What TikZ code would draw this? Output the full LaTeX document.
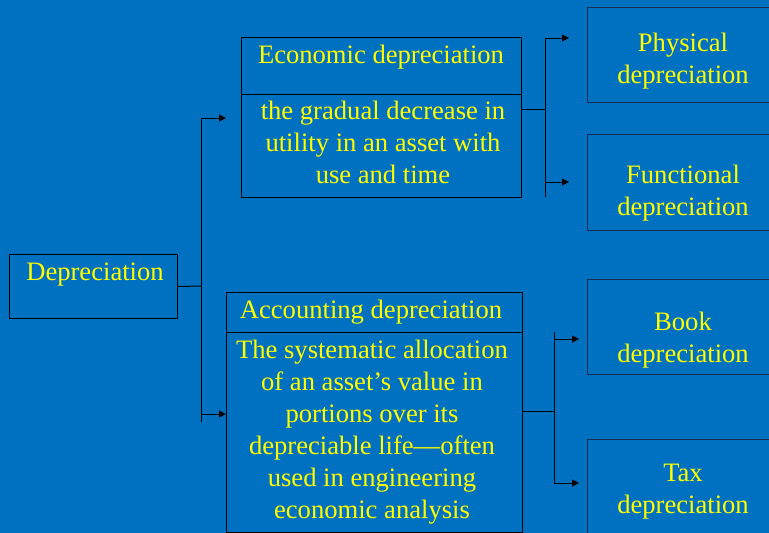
\documentclass[tikz,border=0pt]{standalone}
\usepackage{fontspec}
\setmainfont{Liberation Serif}
\usetikzlibrary{arrows.meta}
\definecolor{bgblue}{RGB}{0,112,192}
\definecolor{txtyellow}{RGB}{255,255,0}
\definecolor{navyline}{RGB}{20,45,85}
\begin{document}
\begin{tikzpicture}[x=1pt,y=-1pt,
  box/.style={draw=black,line width=1pt,inner sep=0pt,anchor=north west},
  rbox/.style={draw=navyline,line width=1.3pt,inner sep=0pt,anchor=north west,minimum width=195pt},
  txt/.style={text=txtyellow,inner sep=0pt,anchor=north,align=center,
    font=\rmfamily\fontsize{26.6}{32}\selectfont},
  conn/.style={draw=black,line width=1pt},
  arr/.style={conn,-{Triangle[length=7pt,width=7pt]}}]
\useasboundingbox[fill=bgblue] (0,0) rectangle (769,533);
\clip (0,0) rectangle (769,533);
% boxes
\node[box,minimum width=168pt,minimum height=64pt] (dep) at (9,254) {};
\node[box,minimum width=280pt,minimum height=57pt] (econt) at (241,37) {};
\node[box,minimum width=280pt,minimum height=103pt] (econb) at (241,94) {};
\node[box,minimum width=296pt,minimum height=40pt] (acct) at (226,292) {};
\node[box,minimum width=296pt,minimum height=200pt] (accb) at (226,332) {};
\node[rbox,minimum height=95pt] (phys) at (587,7) {};
\node[rbox,minimum height=96pt] (func) at (587,134) {};
\node[rbox,minimum height=95pt] (book) at (587,279) {};
\node[rbox,minimum height=101pt] (tax) at (587,439) {};
% texts (y = first baseline - 22.4)
\node[txt] (tdep) at (95,257.6) {\strut Depreciation};
\node[txt] (tecont) at (381,40.6) {\strut Economic depreciation};
\node[txt] (teconb) at (383,96.6) {\strut the gradual decrease in\\utility in an asset with\\use and time};
\node[txt] (tacct) at (371,295.6) {\strut Accounting depreciation};
\node[txt] (taccb) at (372,335.6) {\strut The systematic allocation\\of an asset’s value in\\portions over its\\depreciable life—often\\used in engineering\\economic analysis};
\node[txt] (tphys) at (683,29) {\strut Physical\\depreciation};
\node[txt] (tfunc) at (683,161) {\strut Functional\\depreciation};
\node[txt] (tbook) at (683,307.6) {\strut Book\\depreciation};
\node[txt] (ttax) at (683,458.6) {\strut Tax\\depreciation};
% junction coordinates
\coordinate (j1) at (201,286);
\coordinate (j1t) at (201,118);
\coordinate (j1b) at (201,414);
\coordinate (j1e) at (201,422);
\coordinate (a1) at (226,118);
\coordinate (j2s) at (521,109);
\coordinate (j2) at (545,109);
\coordinate (j2t) at (545,38);
\coordinate (j2b) at (545,182);
\coordinate (j2e) at (545,197);
\coordinate (a2t) at (569,38);
\coordinate (a2b) at (569,182);
\coordinate (j3s) at (522,411);
\coordinate (j3) at (554,411);
\coordinate (j3t) at (554,332);
\coordinate (j3u) at (554,339);
\coordinate (j3b) at (554,483);
\coordinate (a3t) at (579,339);
\coordinate (a3b) at (579,483);
% connectors
\draw[conn] (dep.east) -- (j1);
\draw[conn] (j1t) -- (j1e);
\draw[arr] (j1t) -- (a1);
\draw[arr] (j1b) -- (j1b -| accb.west);
\draw[conn] (j2s) -- (j2);
\draw[conn] (j2t) -- (j2e);
\draw[arr] (j2t) -- (a2t);
\draw[arr] (j2b) -- (a2b);
\draw[conn] (j3s) -- (j3);
\draw[conn] (j3t) -- (j3b);
\draw[arr] (j3u) -- (a3t);
\draw[arr] (j3b) -- (a3b);
\end{tikzpicture}
\end{document}
